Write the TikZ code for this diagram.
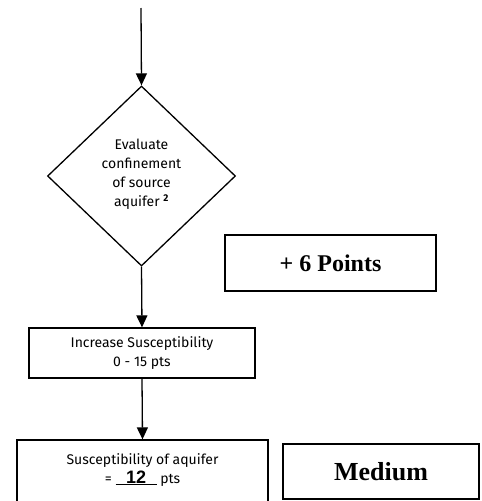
\documentclass[tikz,border=0pt]{standalone}
\usepackage{fontspec}
\setmainfont{Liberation Serif}
\setsansfont{Liberation Sans}
\newfontfamily\handfont{Fira Sans}
\usetikzlibrary{shapes.geometric,arrows.meta}

% blank with a score filled in
\newcommand{\scoreblank}[1]{%
  \makebox[41pt][c]{\sffamily\bfseries\fontsize{18}{18}\selectfont #1}%
  \llap{\rule[-2pt]{41pt}{1pt}}}

\begin{document}
\begin{tikzpicture}[x=1pt,y=-1pt,
  flow/.style={line width=1.3pt,-{Triangle[length=12pt,width=11pt]}},
  thinbox/.style={draw,line width=1.3pt,inner sep=0pt},
  thickbox/.style={draw,line width=2.8pt,inner sep=0pt},
  hand/.style={font=\handfont\fontsize{14}{19}\selectfont,align=center}
]
\useasboundingbox (0,0) rectangle (482,501);
\clip (0,0) rectangle (482,501);

\coordinate (start) at (141,8);

% decision
\node[diamond,draw,line width=1.3pt,minimum width=188pt,minimum height=180pt,
      inner sep=0pt] (confine) at (141.5,176) {};
\node[hand] (confinetext) at (141.5,174)
  {Evaluate\\confinement\\of source\\aquifer \textsuperscript{\bfseries 2}};

% side result of the decision
\node[thickbox,minimum width=211pt,minimum height=56pt,
      font=\bfseries\fontsize{24}{28}\selectfont] (points) at (330.5,263) {+ 6 Points};

% process box
\node[thinbox,hand,minimum width=226pt,minimum height=50pt] (increase) at (142,353)
  {Increase Susceptibility\\0 - 15 pts};

% outcome box, open at the lower page edge
\node[thinbox,minimum width=251pt,minimum height=80pt] (result) at (142.5,480) {};
\node[hand,anchor=north,font=\handfont\fontsize{14}{16}\selectfont] (resulttext) at (142.5,450)
  {Susceptibility of aquifer\\[3pt] = \scoreblank{12} pts};

\node[thickbox,minimum width=196pt,minimum height=55pt,
      font=\bfseries\fontsize{26}{30}\selectfont] (rating) at (381,471.5) {Medium};

% connectors
\draw[flow] (start) -- (confine.north);
\draw[flow] (confine.south) -- (increase.north);
\draw[flow] (increase.south) -- (result.north);
\end{tikzpicture}
\end{document}
